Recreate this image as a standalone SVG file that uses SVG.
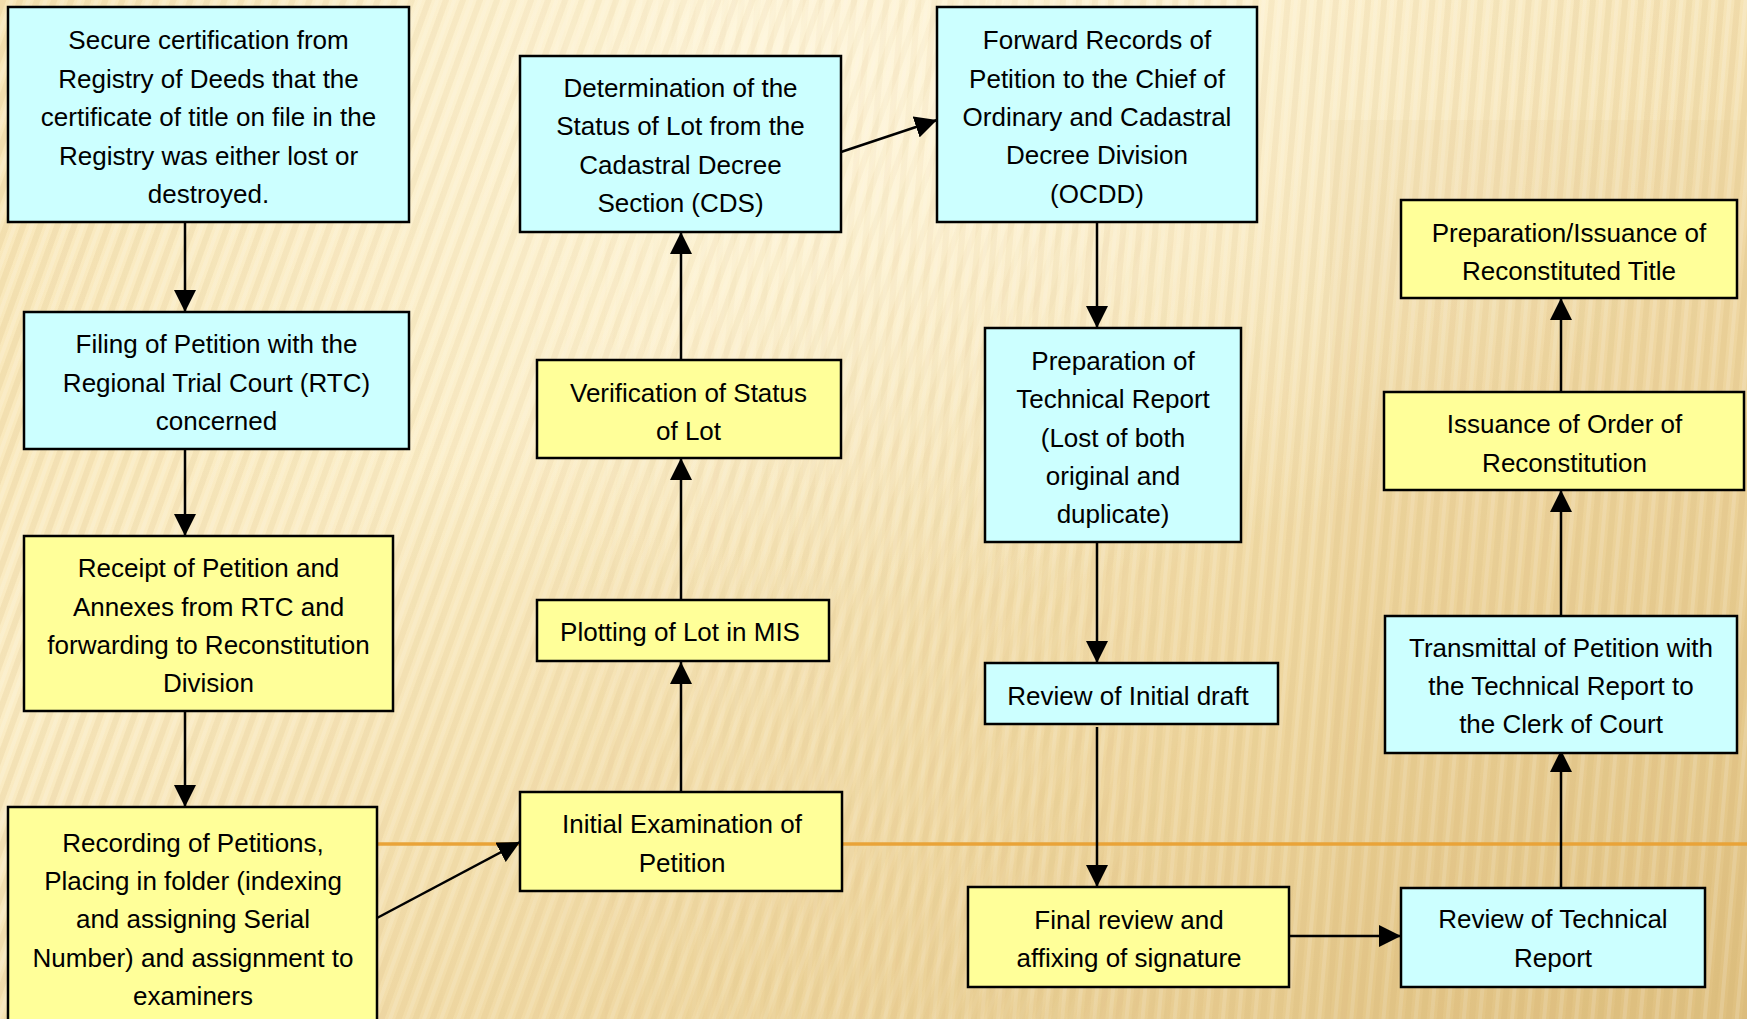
<svg xmlns="http://www.w3.org/2000/svg" width="1747" height="1019" viewBox="0 0 1747 1019">
<style>
.box rect{stroke:#000;stroke-width:2.5}
.cyan rect{fill:#CCFFFF}
.yel rect{fill:#FFFF99}
text{font-family:"Liberation Sans",Arial,sans-serif;font-size:26px;fill:#000;text-anchor:middle}
.conn line{stroke:#000;stroke-width:2.5;marker-end:url(#ah)}
</style>
<defs>
<linearGradient id="bg" x1="0" y1="0" x2="1" y2="1">
<stop offset="0" stop-color="#F7E3B0"/>
<stop offset="0.35" stop-color="#FBEDC6"/>
<stop offset="0.7" stop-color="#EFD7A0"/>
<stop offset="1" stop-color="#E0C282"/>
</linearGradient>
<radialGradient id="glow" cx="0.45" cy="0.05" r="0.55">
<stop offset="0" stop-color="#FFF8E0" stop-opacity="0.85"/>
<stop offset="1" stop-color="#FFF8E0" stop-opacity="0"/>
</radialGradient>
<pattern id="stripesA" width="16" height="40" patternUnits="userSpaceOnUse" patternTransform="rotate(20)">
<rect x="0" y="0" width="6" height="40" fill="#C9A45A" opacity="0.13"/>
<rect x="9" y="0" width="4" height="40" fill="#FFFFFF" opacity="0.16"/>
</pattern>
<pattern id="stripesB" width="16" height="40" patternUnits="userSpaceOnUse" patternTransform="rotate(5)">
<rect x="0" y="0" width="6" height="40" fill="#C9A45A" opacity="0.13"/>
<rect x="9" y="0" width="4" height="40" fill="#FFFFFF" opacity="0.16"/>
</pattern>
<linearGradient id="fadeL" x1="0" y1="0" x2="1" y2="0">
<stop offset="0" stop-color="#fff" stop-opacity="1"/>
<stop offset="0.45" stop-color="#fff" stop-opacity="0.6"/>
<stop offset="0.7" stop-color="#fff" stop-opacity="0"/>
</linearGradient>
<linearGradient id="fadeR" x1="0" y1="0" x2="1" y2="0">
<stop offset="0.3" stop-color="#fff" stop-opacity="0"/>
<stop offset="0.6" stop-color="#fff" stop-opacity="0.7"/>
<stop offset="1" stop-color="#fff" stop-opacity="1"/>
</linearGradient>
<mask id="mL"><rect x="0" y="0" width="1747" height="1019" fill="url(#fadeL)"/></mask>
<mask id="mR"><rect x="0" y="0" width="1747" height="1019" fill="url(#fadeR)"/></mask>
<marker id="ah" viewBox="0 0 22 22" refX="22" refY="11" markerWidth="22" markerHeight="22" markerUnits="userSpaceOnUse" orient="auto">
<path d="M0,0 L22,11 L0,22 z" fill="#000"/>
</marker>
</defs>
<rect x="0" y="0" width="1747" height="1019" fill="url(#bg)"/>
<rect x="0" y="0" width="1747" height="1019" fill="url(#glow)"/>
<rect x="0" y="0" width="1747" height="1019" fill="url(#stripesA)" mask="url(#mL)"/>
<rect x="0" y="0" width="1747" height="1019" fill="url(#stripesB)" mask="url(#mR)"/>
<rect x="1330" y="120" width="417" height="899" fill="#D8B870" opacity="0.08"/>

<g id="divider">
<line x1="377" y1="844" x2="1747" y2="844" stroke="#E9A338" stroke-width="3.5"/>
</g>

<g id="connectors" class="conn">
<line x1="185" y1="222" x2="185" y2="312"/>
<line x1="185" y1="449" x2="185" y2="536"/>
<line x1="185" y1="711" x2="185" y2="807"/>
<line x1="377" y1="918" x2="520" y2="842"/>
<line x1="681" y1="792" x2="681" y2="662"/>
<line x1="681" y1="600" x2="681" y2="458"/>
<line x1="681" y1="360" x2="681" y2="232"/>
<line x1="841" y1="152" x2="937" y2="120"/>
<line x1="1097" y1="222" x2="1097" y2="328"/>
<line x1="1097" y1="542" x2="1097" y2="663"/>
<line x1="1097" y1="727" x2="1097" y2="887"/>
<line x1="1289" y1="936" x2="1401" y2="936"/>
<line x1="1561" y1="888" x2="1561" y2="750"/>
<line x1="1561" y1="616" x2="1561" y2="490"/>
<line x1="1561" y1="392" x2="1561" y2="298"/>
</g>

<g id="n1" class="box cyan">
<rect x="8" y="7" width="401" height="215"/>
<text x="208.5" y="49">Secure certification from</text>
<text x="208.5" y="87.5">Registry of Deeds that the</text>
<text x="208.5" y="126">certificate of title on file in the</text>
<text x="208.5" y="164.5">Registry was either lost or</text>
<text x="208.5" y="203">destroyed.</text>
</g>
<g id="n2" class="box cyan">
<rect x="24" y="312" width="385" height="137"/>
<text x="216.5" y="353.3">Filing of Petition with the</text>
<text x="216.5" y="391.7">Regional Trial Court (RTC)</text>
<text x="216.5" y="430">concerned</text>
</g>
<g id="n3" class="box yel">
<rect x="24" y="536" width="369" height="175"/>
<text x="208.5" y="577.3">Receipt of Petition and</text>
<text x="208.5" y="615.7">Annexes from RTC and</text>
<text x="208.5" y="654">forwarding to Reconstitution</text>
<text x="208.5" y="692.3">Division</text>
</g>
<g id="n4" class="box yel">
<rect x="8" y="807" width="369" height="220"/>
<text x="193" y="851.7">Recording of Petitions,</text>
<text x="193" y="890">Placing in folder (indexing</text>
<text x="193" y="928.3">and assigning Serial</text>
<text x="193" y="966.7">Number) and assignment to</text>
<text x="193" y="1005">examiners</text>
</g>
<g id="n5" class="box cyan">
<rect x="520" y="56" width="321" height="176"/>
<text x="680.5" y="97.3">Determination of the</text>
<text x="680.5" y="135.4">Status of Lot from the</text>
<text x="680.5" y="173.5">Cadastral Decree</text>
<text x="680.5" y="211.6">Section (CDS)</text>
</g>
<g id="n6" class="box yel">
<rect x="537" y="360" width="304" height="98"/>
<text x="688.5" y="401.7">Verification of Status</text>
<text x="688.5" y="440">of Lot</text>
</g>
<g id="n7" class="box yel">
<rect x="537" y="600" width="292" height="61"/>
<text x="680" y="640.7">Plotting of Lot in MIS</text>
</g>
<g id="n8" class="box yel">
<rect x="520" y="792" width="322" height="99"/>
<text x="682" y="833.3">Initial Examination of</text>
<text x="682" y="871.7">Petition</text>
</g>
<g id="n9" class="box cyan">
<rect x="937" y="7" width="320" height="215"/>
<text x="1097" y="49.3">Forward Records of</text>
<text x="1097" y="87.6">Petition to the Chief of</text>
<text x="1097" y="126">Ordinary and Cadastral</text>
<text x="1097" y="164.3">Decree Division</text>
<text x="1097" y="202.6">(OCDD)</text>
</g>
<g id="n10" class="box cyan">
<rect x="985" y="328" width="256" height="214"/>
<text x="1113" y="370">Preparation of</text>
<text x="1113" y="408.3">Technical Report</text>
<text x="1113" y="446.7">(Lost of both</text>
<text x="1113" y="485">original and</text>
<text x="1113" y="523.3">duplicate)</text>
</g>
<g id="n11" class="box cyan">
<rect x="985" y="663" width="293" height="61"/>
<text x="1128" y="705">Review of Initial draft</text>
</g>
<g id="n12" class="box yel">
<rect x="968" y="887" width="321" height="100"/>
<text x="1129" y="929">Final review and</text>
<text x="1129" y="967.3">affixing of signature</text>
</g>
<g id="n13" class="box cyan">
<rect x="1401" y="888" width="304" height="99"/>
<text x="1553" y="928.3">Review of Technical</text>
<text x="1553" y="967">Report</text>
</g>
<g id="n14" class="box cyan">
<rect x="1385" y="616" width="352" height="137"/>
<text x="1561" y="656.7">Transmittal of Petition with</text>
<text x="1561" y="695">the Technical Report to</text>
<text x="1561" y="733.3">the Clerk of Court</text>
</g>
<g id="n15" class="box yel">
<rect x="1384" y="392" width="360" height="98"/>
<text x="1564.5" y="433.3">Issuance of Order of</text>
<text x="1564.5" y="471.7">Reconstitution</text>
</g>
<g id="n16" class="box yel">
<rect x="1401" y="200" width="336" height="98"/>
<text x="1569" y="241.7">Preparation/Issuance of</text>
<text x="1569" y="280">Reconstituted Title</text>
</g>
</svg>
